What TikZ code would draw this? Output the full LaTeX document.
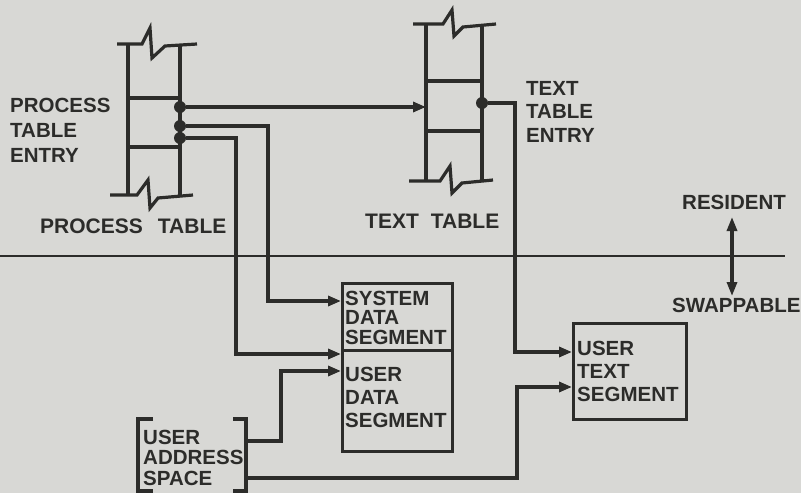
\documentclass[tikz,border=0pt]{standalone}
\usepackage{fontspec}
\setmainfont{Liberation Sans}
\usetikzlibrary{arrows.meta}
\definecolor{paper}{RGB}{216,216,213}
\definecolor{ink}{RGB}{44,44,42}
\newcommand{\lett}[1]{\bfseries\fontsize{20.5}{#1}\selectfont}
\begin{document}
\begin{tikzpicture}[x=1pt,y=-1pt,
  ln/.style={draw=ink,line width=3.2pt,line join=miter,line cap=butt},
  conn/.style={ln,-{Triangle[length=13pt,width=10pt]}},
  box/.style={ln,rectangle,inner sep=0pt,anchor=north west},
  lbl/.style={text=ink,inner sep=0pt,align=left,anchor=base west},
  dotst/.style={fill=ink,circle,inner sep=0pt,minimum size=12pt}]
\fill[paper] (0,0) rectangle (801,493);
\useasboundingbox (0,0) rectangle (801,493);

% process table
\draw[ln] (117,44) -- (142,44) -- (150,28) -- (152,58) -- (165,46) -- (197,44);
\draw[ln] (110,195) -- (137,195) -- (148,180) -- (150,208) -- (158,198) -- (193,195);
\draw[ln] (128,44) -- (128,195);
\draw[ln] (180,44) -- (180,195);
\draw[ln] (128,98) -- (180,98);
\draw[ln] (128,147) -- (180,147);

% text table
\draw[ln] (413,24) -- (443,24) -- (452,10) -- (454,36) -- (463,27) -- (496,24);
\draw[ln] (409,181) -- (440,181) -- (450,166) -- (452,193) -- (462,183) -- (493,180);
\draw[ln] (426,24) -- (426,181);
\draw[ln] (482,24) -- (482,180);
\draw[ln] (426,81) -- (482,81);
\draw[ln] (426,131) -- (482,131);

% dots
\node[dotst] (d1) at (180,107) {};
\node[dotst] (d2) at (180,126) {};
\node[dotst] (d3) at (180,138) {};
\node[dotst] (dt) at (482,103) {};
\coordinate (ttin) at (426,107);

% boxes
\node[box,minimum width=110pt,minimum height=67pt] (sds) at (341,282) {};
\node[box,minimum width=110pt,minimum height=101pt] (uds) at (341,349) {};
\node[box,minimum width=113pt,minimum height=96pt] (uts) at (572,322) {};

% user address space bracket
\draw[ln] (153,419) -- (138,419) -- (138,491) -- (153,491);
\draw[ln] (233,419) -- (246,419) -- (246,491) -- (233,491);
\coordinate (uas1) at (246,441);
\coordinate (uas2) at (246,478);

% divider and resident/swappable arrow
\coordinate (divl) at (0,256);
\coordinate (divr) at (785,256);
\draw[ln,line width=2.8pt] (divl) -- (divr);
\coordinate (resa) at (732,217);
\coordinate (swpa) at (732,296);
\draw[ln,{Triangle[length=14pt,width=10pt]}-{Triangle[length=14pt,width=10pt]}] (resa) -- (swpa);

% connectors
\draw[conn] (d1) -- (ttin);
\draw[conn] (dt) -| (515,352) -- (uts.west |- 515,352);
\draw[conn] (d2) -| (268,301) -- (sds.west |- 268,301);
\draw[conn] (d3) -| (236,354) -- (uds.west |- 236,354);
\draw[conn] (uas1) -| (281,371) -- (uds.west |- 281,371);
\draw[conn] (uas2) -| (517,387) -- (uts.west |- 517,387);

% labels (base anchor = baseline of last line)
\node[lbl,font=\lett{25pt}] (lpte) at (10,162) {PROCESS\\TABLE\\ENTRY};
\node[lbl,font=\bfseries\fontsize{21}{25}\selectfont] (lpt) at (40,233) {PROCESS\hspace{15pt}TABLE};
\node[lbl,font=\bfseries\fontsize{21}{25}\selectfont] (ltt) at (365,228) {TEXT\hspace{12pt}TABLE};
\node[lbl,font=\lett{23.5pt}] (ltte) at (526,142) {TEXT\\TABLE\\ENTRY};
\node[lbl,font=\lett{25pt}] (lres) at (682,209) {RESIDENT};
\node[lbl,font=\lett{25pt}] (lswp) at (672,312) {SWAPPABLE};
\node[lbl,font=\lett{19.5pt}] (lsds) at (345,344) {SYSTEM\\DATA\\SEGMENT};
\node[lbl,font=\lett{23pt}] (luds) at (345,427) {USER\\DATA\\SEGMENT};
\node[lbl,font=\lett{23pt}] (luts) at (577,401) {USER\\TEXT\\SEGMENT};
\node[lbl,font=\lett{20.5pt}] (luas) at (143,485) {USER\\ADDRESS\\SPACE};
\end{tikzpicture}
\end{document}
